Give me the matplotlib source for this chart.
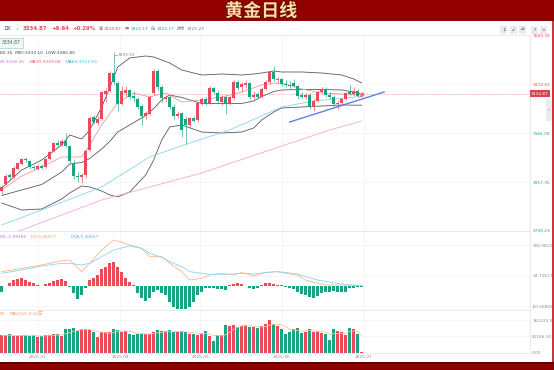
import matplotlib.pyplot as plt
import matplotlib.patheffects as pe
from matplotlib.patches import Rectangle
import numpy as np
import pandas as pd

plt.rcParams['font.family'] = ['DejaVu Sans', 'Noto Sans CJK SC']

# 日K 数据 (从图上读取, 91 根)
opens = [2920, 2950, 2990, 2980, 3015, 3036, 3058, 3048, 3024, 3015,
         3028, 3022, 3058, 3090, 3126, 3118, 3134, 3110, 3040, 2985,
         2978, 2986, 3095, 3234, 3210, 3228, 3335, 3348, 3425, 3382,
         3292, 3336, 3350, 3324, 3314, 3282, 3240, 3250, 3336, 3432,
         3364, 3310, 3322, 3278, 3240, 3252, 3225, 3200, 3230, 3222,
         3294, 3314, 3296, 3358, 3338, 3300, 3320, 3295, 3316, 3386,
         3362, 3372, 3380, 3320, 3332, 3322, 3356, 3386, 3428, 3392,
         3398, 3378, 3370, 3380, 3368, 3328, 3322, 3330, 3276, 3304,
         3344, 3356, 3330, 3322, 3290, 3296, 3312, 3340, 3334, 3348,
         3322.17]
highs = [2945, 2992, 2998, 3025, 3045, 3060, 3066, 3054, 3032, 3034,
         3036, 3060, 3090, 3128, 3136, 3140, 3168, 3118, 3055, 3002,
         2995, 3100, 3240, 3246, 3238, 3345, 3358, 3430, 3499.93, 3388,
         3368, 3366, 3356, 3348, 3320, 3290, 3262, 3330, 3440, 3438,
         3372, 3330, 3330, 3290, 3262, 3258, 3240, 3236, 3238, 3300,
         3320, 3322, 3366, 3365, 3350, 3328, 3330, 3328, 3392, 3392,
         3384, 3392, 3385, 3345, 3342, 3362, 3392, 3432, 3452, 3408,
         3402, 3394, 3388, 3396, 3372, 3340, 3338, 3336, 3312, 3350,
         3362, 3362, 3340, 3330, 3306, 3318, 3342, 3372, 3362, 3356,
         3334.87]
lows = [2905, 2944, 2972, 2975, 3008, 3030, 3044, 3015, 3010, 3008,
        3012, 3018, 3052, 3085, 3110, 3112, 3106, 3040, 2970, 2960,
        2955, 2975, 3090, 3205, 3202, 3222, 3300, 3340, 3370, 3262,
        3286, 3322, 3310, 3300, 3268, 3202, 3228, 3244, 3330, 3350,
        3300, 3298, 3270, 3228, 3232, 3150, 3120, 3192, 3212, 3215,
        3285, 3285, 3290, 3332, 3296, 3288, 3250, 3288, 3310, 3350,
        3344, 3360, 3310, 3312, 3315, 3318, 3350, 3378, 3390, 3380,
        3368, 3362, 3356, 3362, 3312, 3316, 3314, 3268, 3262, 3298,
        3336, 3322, 3312, 3282, 3270, 3288, 3306, 3330, 3326, 3320,
        3322.17]
closes = [2938, 2982, 2978, 3018, 3038, 3055, 3050, 3022, 3018, 3028,
          3020, 3056, 3086, 3124, 3118, 3132, 3112, 3046, 2985, 2978,
          2986, 3092, 3232, 3214, 3228, 3340, 3348, 3425, 3385, 3290,
          3348, 3352, 3322, 3316, 3280, 3240, 3252, 3322, 3432, 3365,
          3318, 3322, 3280, 3240, 3248, 3182, 3200, 3230, 3220, 3294,
          3314, 3296, 3360, 3340, 3302, 3320, 3295, 3320, 3386, 3360,
          3374, 3382, 3322, 3330, 3322, 3356, 3386, 3426, 3396, 3398,
          3376, 3370, 3366, 3368, 3324, 3322, 3330, 3276, 3304, 3344,
          3356, 3330, 3320, 3290, 3296, 3312, 3336, 3334, 3348, 3325.23,
          3334.87]
volumes = [86200, 86200, 91300, 81200, 84500, 86200, 86200, 84500, 86200, 77800,
           81200, 89600, 89600, 91300, 91300, 84500, 120000, 116700, 125100, 106500,
           118400, 116700, 115000, 101500, 77800, 101500, 103100, 101500, 116700, 115000,
           103100, 106500, 94700, 89600, 94700, 94700, 94700, 94700, 101500, 111600,
           108200, 106500, 111600, 101500, 101500, 106500, 103100, 94700, 94700, 89600,
           94700, 106500, 81200, 55800, 89600, 86200, 140300, 133600, 140300, 130200,
           133600, 140300, 128500, 128500, 123400, 131900, 145400, 162300, 145400, 131900,
           116700, 94700, 103100, 120000, 123400, 98100, 103100, 116700, 103100, 106500,
           98100, 94700, 60900, 116700, 106500, 103100, 89600, 125100, 120000, 94700,
           3000]
macd = [-14.0, 0.8, 6.6, 14.8, 17.3, 18.9, 14.8, 10.7, 6.6, 2.5,
        0.8, 4.1, 6.6, 13.2, 14.8, 16.5, 13.2, -3.3, -18.1, -32.1,
        -22.2, -5.8, 14.8, 18.9, 27.2, 41.2, 47.7, 56.0, 60.1, 47.7,
        35.4, 18.9, 10.7, 2.5, -18.1, -30.5, -37.0, -30.5, -14.0, -9.9,
        -16.5, -22.2, -38.7, -52.7, -56.8, -57.6, -57.6, -51.0, -38.7, -22.2,
        -14.0, -5.8, -4.1, -5.8, -6.6, -8.2, -9.9, 2.5, 4.9, 6.6,
        4.9, -0.5, -5.8, -8.2, -5.8, 2.5, 8.2, 6.6, 4.9, 2.5,
        2.5, -3.3, -5.8, -7.4, -14.0, -19.8, -22.2, -28.0, -30.5, -23.9,
        -18.1, -15.6, -14.0, -12.3, -14.0, -15.6, -14.0, -5.8, -4.1, -3.3,
        -1.6916]

# 指标线 (按K线序号取点)
boll_idx = [0, 5, 10, 15, 17, 20, 22, 25, 27, 29, 32, 36, 38, 40, 42, 45, 50, 55, 60, 63,
            65, 68, 70, 75, 80, 85, 88, 90]
boll_up = [2932.6, 3009.4, 3052.0, 3116.0, 3158.6, 3141.6, 3180.0, 3278.0, 3359.0, 3448.6,
           3487.0, 3495.5, 3491.2, 3478.4, 3465.6, 3435.8, 3414.5, 3418.7, 3414.5, 3418.7,
           3423.0, 3431.5, 3427.3, 3427.3, 3423.0, 3414.5, 3397.4, 3380.35]
boll_mid = [2900.7, 2924.1, 2947.6, 3000.9, 3035.0, 3041.4, 3058.5, 3099.0, 3130.9, 3171.5,
            3201.3, 3241.8, 3271.6, 3307.9, 3329.2, 3318.6, 3293.0, 3293.0, 3293.0, 3303.6,
            3322.8, 3344.1, 3350.6, 3352.7, 3352.7, 3350.6, 3341.6, 3333.10]
boll_low = [2868.7, 2838.8, 2843.1, 2885.7, 2911.3, 2941.2, 2936.9, 2919.9, 2902.8, 2894.3,
            2915.6, 2988.1, 3052.0, 3137.3, 3192.8, 3201.3, 3171.4, 3167.2, 3171.4, 3188.5,
            3222.6, 3256.7, 3273.8, 3278.0, 3282.3, 3286.6, 3285.7, 3285.85]
ma10_idx = [0, 5, 10, 15, 20, 22, 25, 29, 33, 37, 41, 45, 50, 55, 60, 65, 68, 71, 75, 80, 85, 90]
ma10 = [2924.1, 2983.8, 3022.2, 3064.8, 3064.8, 3116.0, 3201.3, 3295.1, 3337.7, 3320.7, 3337.7,
        3299.4, 3307.9, 3320.7, 3342.0, 3371.8, 3380.4, 3376.1, 3354.8, 3337.7, 3333.5, 3329.68]
ma60_idx = [0, 12, 25, 37, 47, 57, 70, 78, 86, 90]
ma60 = [2774.9, 2851.6, 2936.9, 3064.8, 3124.5, 3180.0, 3278.0, 3303.6, 3316.4, 3323.50]
ma100_idx = [0, 5, 25, 37, 50, 70, 82, 90]
ma100 = [2727.9, 2753.5, 2881.5, 2936.9, 2996.6, 3111.7, 3180.0, 3218.35]
trend_x = [72, 95.6]
trend_y = [3214, 3342]

dif_idx = [0, 5, 10, 15, 17, 20, 22, 25, 28, 32, 35, 37, 40, 42, 45, 47, 50, 52, 55, 58,
           60, 63, 66, 69, 71, 74, 76, 79, 81, 84, 87, 90]
dif = [35.4, 43.6, 51.9, 62.6, 64.2, 35.4, 56.0, 88.9, 113.6, 101.3, 93.0, 72.4, 72.4, 56.0,
       35.4, 14.8, 18.9, 27.2, 31.3, 27.2, 33.3, 24.7, 33.3, 35.4, 31.3, 27.2, 14.8, 6.6,
       2.5, 2.5, 2.5, 0.46077]
dea = [31.3, 39.5, 49.4, 56.0, 56.0, 51.9, 56.0, 72.4, 88.9, 98.8, 93.0, 80.7, 70.8, 60.1,
       47.7, 35.4, 31.3, 28.8, 28.8, 29.6, 31.3, 29.6, 33.3, 35.4, 33.3, 29.6, 23.0, 14.8,
       11.5, 6.6, 2.5, 1.30657]

price_ticks = [2749.23, 2957.76, 3166.28, 3374.81, 3583.34]
macd_ticks = [-50.56892, 24.75617, 100.08126]
vol_ticks = [0, 81166.5, 162333]
date_pos = [9, 29.6, 49.6, 70, 90.5]
date_labels = ['2025-03', '2025-04', '2025-05', '2025-06', '2025-07']

RED = '#ea4a5a'
GREEN = '#19a583'
W, H = 554, 370


def txt(x, y, s, **kw):
    kw.setdefault('va', 'center')
    kw.setdefault('fontsize', 3.3)
    return fig.text(x / W, 1 - y / H, s, **kw)


fig = plt.figure(figsize=(5.54, 3.70), dpi=100)
fig.patch.set_facecolor('white')

# 顶部标题栏 + 底边
fig.add_artist(Rectangle((0, 1 - 21 / H), 1, 21 / H, transform=fig.transFigure,
                         fc='#920000', ec='none', zorder=0))
fig.add_artist(Rectangle((0, 0), 1, 8.5 / H, transform=fig.transFigure,
                         fc='#8c0000', ec='none', zorder=0))
fig.add_artist(Rectangle((0, 6.5 / H), 1, 2 / H, transform=fig.transFigure,
                         fc='#5e0000', ec='none', zorder=0))
fig.add_artist(Rectangle((552.3 / W, 8.5 / H), 1.7 / W, (370 - 29.5) / H,
                         transform=fig.transFigure, fc='#c43a3a', ec='none', zorder=5))
t = txt(261, 11, '黄金日线', ha='center', fontsize=13, fontweight='bold',
        color='#f8dfa6', family=['Noto Sans CJK SC'])
t.set_path_effects([pe.withStroke(linewidth=1.2, foreground='#6a0000')])

x0, x1 = -1.7 / 4, (530 - 1.7) / 4
ax_p = fig.add_axes([0, 1 - 231 / H, 530 / W, (231 - 35.4) / H])
ax_m = fig.add_axes([0, 1 - 310 / H, 530 / W, (310 - 231) / H], sharex=ax_p)
ax_v = fig.add_axes([0, 1 - 352.5 / H, 530 / W, (352.5 - 310) / H], sharex=ax_p)

idx = np.arange(len(closes))
o = np.array(opens)
c = np.array(closes)
col = np.where(c >= o, RED, GREEN)

# K线
ax_p.plot(boll_idx, boll_up, color='#5a5a5a', lw=0.6, zorder=2)
ax_p.plot(boll_idx, boll_mid, color='#5a5a5a', lw=0.6, zorder=2)
ax_p.plot(boll_idx, boll_low, color='#5a5a5a', lw=0.6, zorder=2)
ax_p.plot(ma10_idx, ma10, color='#f29a9a', lw=0.6, zorder=2)
ax_p.plot(ma60_idx, ma60, color='#86d6ee', lw=0.6, zorder=2)
ax_p.plot(ma100_idx, ma100, color='#f0a8e6', lw=0.6, zorder=2)
ax_p.vlines(idx, lows, highs, colors=col, lw=0.45, zorder=3)
ax_p.bar(idx, np.maximum(np.abs(c - o), 1.5), bottom=np.minimum(o, c), width=0.72,
         color=col, lw=0, zorder=4)
ax_p.plot(trend_x, trend_y, color='#5b82e6', lw=1.0, zorder=5)
ax_p.axhline(closes[-1], color='#f2a2ac', lw=0.6, ls=(0, (1, 1)), zorder=1)
ax_p.plot(idx[-1], closes[-1], 'o', ms=2.6, color=RED, mec='#f8c0c8', mew=0.6, zorder=6)

peak = int(np.argmax(highs))
ax_p.plot([peak, peak + 0.9], [highs[peak], highs[peak]], color='#999999', lw=0.5, zorder=5)
ax_p.plot([peak, peak], [highs[peak] - 12, highs[peak] + 12], color='#999999', lw=0.5, zorder=5)
ax_p.text(peak + 1.1, highs[peak], f'{highs[peak]:.2f}', fontsize=3.1, color='#888888',
          va='center', ha='left')

ax_p.set_xlim(x0, x1)
ax_p.set_ylim(price_ticks[0], price_ticks[-1])
ax_p.set_yticks(price_ticks, labels=[f'{v:.2f}' for v in price_ticks])
for lab, v in zip(ax_p.get_yticklabels(), price_ticks):
    lab.set_color(RED if v > closes[-1] else GREEN)
ax_p.get_yticklabels()[0].set_va('bottom')
ax_p.get_yticklabels()[-1].set_va('top')
ax_p.text(1.002, closes[-1], f'{closes[-1]:.2f}', transform=ax_p.get_yaxis_transform(),
          fontsize=3.1, color='white', va='center', ha='left',
          bbox=dict(boxstyle='square,pad=0.35', fc='#e0404e', ec='none'))

# MACD
ax_m.bar(idx, macd, width=0.72, color=np.where(np.array(macd) >= 0, RED, GREEN), lw=0)
ax_m.plot(dif_idx, dif, color='#fdb68a', lw=0.6)
ax_m.plot(dif_idx, dea, color='#8ad6ee', lw=0.6)
ax_m.set_ylim(-59.3, 135.8)
ax_m.set_yticks(macd_ticks, labels=[f'{v:.5f}' for v in macd_ticks])

# 成交量
ax_v.bar(idx, volumes, width=0.72, color=col, lw=0)
ax_v.plot(idx, pd.Series(volumes).rolling(5, min_periods=1).mean(), color='#fcc39a', lw=0.6)
ax_v.set_ylim(0, 215000)
ax_v.set_yticks(vol_ticks, labels=[f'{v:.2f}' for v in vol_ticks])
ax_v.set_xticks(date_pos, labels=date_labels)

for ax in (ax_p, ax_m, ax_v):
    ax.yaxis.tick_right()
    ax.tick_params(axis='both', length=0, labelsize=3.1, pad=1.6, colors='#8a8a8a')
    ax.grid(True, color='#f1f1f1', lw=0.5)
    ax.set_axisbelow(True)
    for s in ax.spines.values():
        s.set_color('#e6e6e6')
        s.set_linewidth(0.6)
    ax.spines['left'].set_visible(False)
for lab, v in zip(ax_p.get_yticklabels(), price_ticks):
    lab.set_color(RED if v > closes[-1] else GREEN)
ax_p.tick_params(axis='x', labelbottom=False)
ax_m.tick_params(axis='x', labelbottom=False)

# 顶部行情信息
gray = '#777777'
txt(3, 29, '日K', color='#666666', fontsize=3.4)
txt(15.5, 29, '•', color='#999999', fontsize=3.4)
txt(22.5, 29, '3334.87', color=RED, fontsize=3.9, fontweight='bold')
txt(51.5, 29, '+9.64', color=RED, fontsize=3.9, fontweight='bold')
txt(72.5, 29, '+0.29%', color=RED, fontsize=3.9, fontweight='bold')
txt(99, 29, '高', color=gray, fontsize=3.0)
txt(104, 29, '3334.87', color=RED, fontsize=3.2)
txt(124.5, 29, '开', color=gray, fontsize=3.0)
txt(130.5, 29, '3322.17', color=GREEN, fontsize=3.2)
txt(150.5, 29, '低', color=gray, fontsize=3.0)
txt(156.5, 29, '3322.17', color=GREEN, fontsize=3.2)
txt(176.5, 29, '昨收', color=gray, fontsize=3.0)
txt(186.5, 29, '3325.23', color=gray, fontsize=3.2)

# 工具按钮
for bx, g in zip([500, 509.5, 519, 530.5, 540], ['↥', '↙', '⇄', '↗', '×']):
    fig.add_artist(Rectangle((bx / W, 1 - 33.5 / H), 7 / W, 7 / H, transform=fig.transFigure,
                             fc='#e9e9ee', ec='none', zorder=3))
    txt(bx + 3.5, 30, g, ha='center', color='#555555', fontsize=3.2, zorder=4)

# 左上角指标数值
txt(1.5, 43, '3334.87', color='#555555', fontsize=3.3,
    bbox=dict(boxstyle='square,pad=0.45', fc='#eef8f4', ec='#9fd5c3', lw=0.5))
txt(0, 53.5, '80.35  MID:3333.10  LOW:3285.85', color='#444444', fontsize=3.2)
txt(0, 62, '00:3218.35', color='#d66ad6', fontsize=3.2)
txt(29.5, 62, 'MA10:3329.68', color='#ec5d6d', fontsize=3.2)
txt(65.5, 62, 'MA60:3323.50', color='#3ab4e4', fontsize=3.2)
txt(0, 236.5, 'CD:-1.69160', color='#a677d8', fontsize=3.2)
txt(31, 236.5, 'DIF:0.46077', color='#f4a062', fontsize=3.2)
txt(71, 236.5, 'DEA:1.30657', color='#3fb8da', fontsize=3.2)
txt(0, 314, '80', color='#f4a062', fontsize=3.2)
txt(10, 314, 'MAVOL5:9.16万', color='#f4a062', fontsize=3.2)

# 右侧小标签
fig.add_artist(Rectangle((546 / W, 1 - 121 / H), 6.3 / W, 22 / H, transform=fig.transFigure,
                         fc='#ececef', ec='none', zorder=3))
txt(549, 110, '›', ha='center', color='#777777', fontsize=4, zorder=4)

fig.savefig('out.png', dpi=100, facecolor='white')
